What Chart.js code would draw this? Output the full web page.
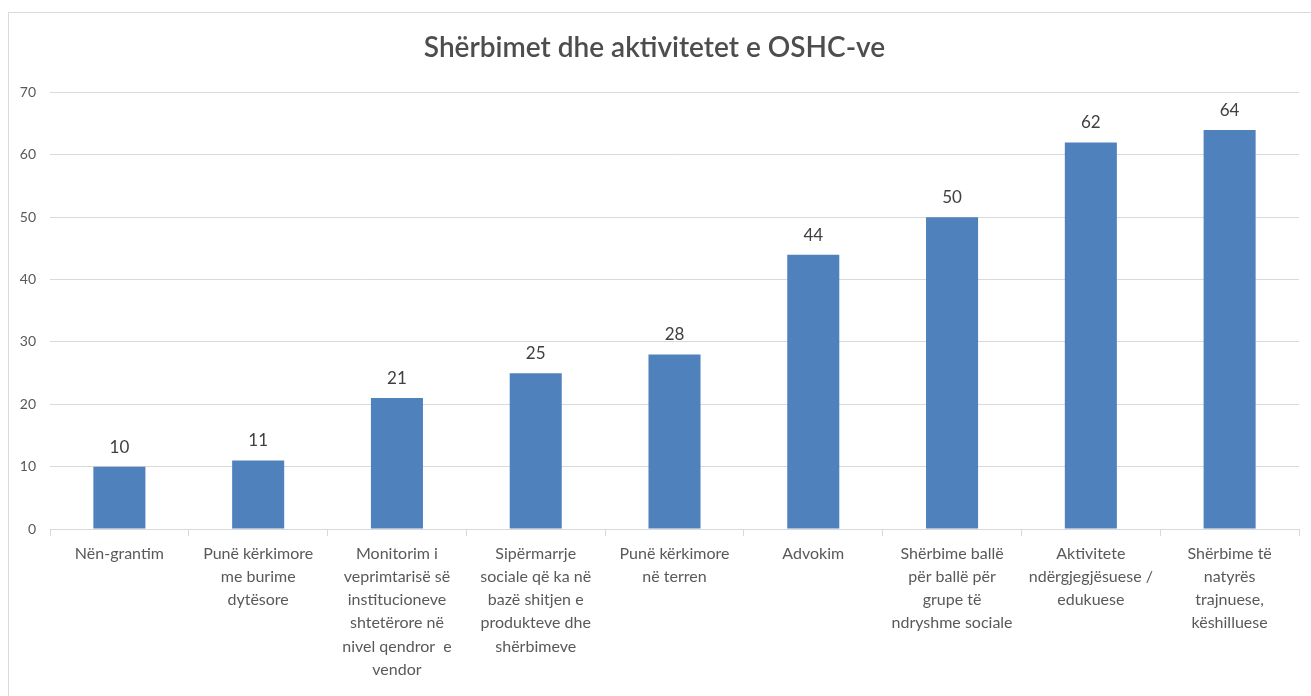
<!DOCTYPE html>
<html>
<head>
<meta charset="utf-8">
<script src="https://cdn.jsdelivr.net/npm/chart.js@4/dist/chart.umd.min.js"></script>
<style>
    html, body { margin: 0; padding: 0; background: #ffffff; overflow: hidden; }
    #frame {
        position: absolute; left: 8px; top: 12px; width: 1320px; height: 720px;
        border: 1px solid #d9d9d9; box-sizing: border-box;
    }
    #wrap { position: absolute; left: 0; top: 0; width: 1311px; height: 696px; }
</style>
</head>
<body>
<div id="frame"></div>
<div id="wrap"><canvas id="chart"></canvas></div>
<script>
// Chart data
const chartTitle = 'Shërbimet dhe aktivitetet e OSHC-ve';

const categories = [
    ['Nën-grantim'],
    ['Punë kërkimore', 'me burime', 'dytësore'],
    ['Monitorim i', 'veprimtarisë së', 'institucioneve', 'shtetërore në', 'nivel qendror  e', 'vendor'],
    ['Sipërmarrje', 'sociale që ka në', 'bazë shitjen e', 'produkteve dhe', 'shërbimeve'],
    ['Punë kërkimore', 'në terren'],
    ['Advokim'],
    ['Shërbime ballë', 'për ballë për', 'grupe të', 'ndryshme sociale'],
    ['Aktivitete', 'ndërgjegjësuese /', 'edukuese'],
    ['Shërbime të', 'natyrës', 'trajnuese,', 'këshilluese']
];

const values = [10, 11, 21, 25, 28, 44, 50, 62, 64];

const yTicks = [0, 10, 20, 30, 40, 50, 60, 70];

const fontFamily = 'Lato, "Open Sans", sans-serif';

// Draw the value above each bar
const valueLabels = {
    id: 'valueLabels',
    afterDatasetsDraw(chart) {
        const ctx = chart.ctx;
        const meta = chart.getDatasetMeta(0);
        ctx.save();
        ctx.font = '17px ' + fontFamily;
        ctx.fillStyle = '#404040';
        ctx.textAlign = 'center';
        ctx.textBaseline = 'bottom';
        meta.data.forEach((bar, i) => {
            ctx.fillText(String(values[i]), bar.x, bar.y - 11);
        });
        ctx.restore();
    }
};

const ctx = document.getElementById('chart');

new Chart(ctx, {
    type: 'bar',
    data: {
        labels: categories,
        datasets: [{
            data: values,
            backgroundColor: '#4f81bd',
            barPercentage: 0.375,
            categoryPercentage: 1.0
        }]
    },
    options: {
        responsive: true,
        maintainAspectRatio: false,
        animation: false,
        layout: {
            padding: { left: 10, right: 12, top: 31, bottom: 0 }
        },
        plugins: {
            legend: { display: false },
            tooltip: { enabled: false },
            title: {
                display: true,
                text: chartTitle,
                color: '#4d4d4d',
                font: { family: fontFamily, size: 28, weight: '600' },
                padding: { top: 0, bottom: 28 }
            }
        },
        scales: {
            x: {
                grid: {
                    offset: true,
                    drawOnChartArea: false,
                    drawTicks: true,
                    tickLength: 7,
                    color: '#d9d9d9'
                },
                border: { color: '#d9d9d9' },
                ticks: {
                    color: '#595959',
                    font: { family: fontFamily, size: 16, lineHeight: 1.45 },
                    maxRotation: 0,
                    autoSkip: false,
                    padding: 6
                },
                afterFit(scale) { scale.height = 167; }
            },
            y: {
                min: 0,
                max: 70,
                afterBuildTicks(scale) {
                    scale.ticks = yTicks.map(v => ({ value: v }));
                },
                grid: {
                    color: '#d9d9d9',
                    drawTicks: false
                },
                border: { display: false },
                ticks: {
                    color: '#595959',
                    font: { family: fontFamily, size: 14 },
                    padding: 14
                },
                afterFit(scale) { scale.width = 40; }
            }
        }
    },
    plugins: [valueLabels]
});
</script>
</body>
</html>
